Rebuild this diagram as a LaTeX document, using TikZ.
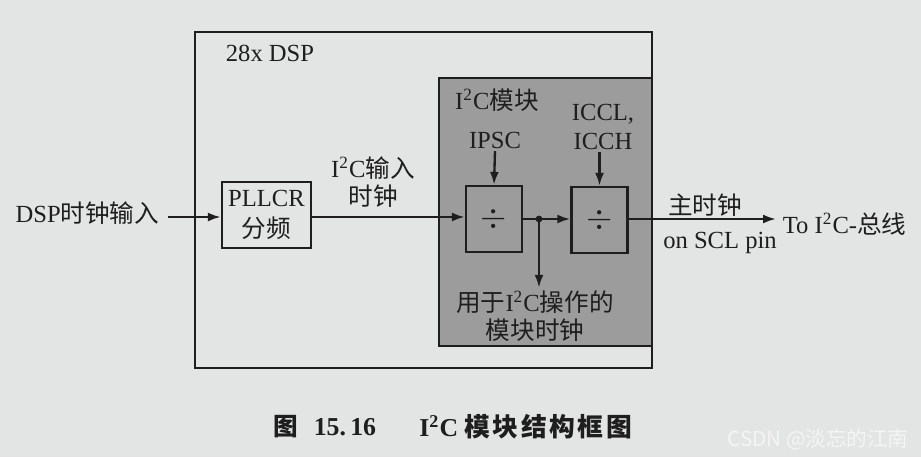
\documentclass[tikz,border=0pt]{standalone}
\usepackage{fontspec}
\setmainfont{Liberation Serif}
\newfontfamily\cjk{Noto Sans CJK SC}
\usetikzlibrary{arrows.meta,positioning}
\definecolor{paper}{HTML}{E3E5E5}
\definecolor{modfill}{HTML}{9C9C9C}
\definecolor{inkline}{HTML}{1E1E1E}
\definecolor{wmark}{HTML}{F4F4F4}
\newcommand{\zh}[1]{{\cjk #1}}
\newcommand{\iic}{I\textsuperscript{2}C}
\begin{document}
\begin{tikzpicture}[x=0.015cm,y=-0.015cm,>={Latex[length=5.5pt,width=3.8pt]},font=\fontsize{10.5}{12}\selectfont,inkline,
  blk/.style={draw=inkline,line width=1pt,inner sep=0pt},
  sig/.style={->,line width=1pt,draw=inkline},
  lbl/.style={align=center,inner sep=1pt,text=inkline}]
\fill[paper] (0,0) rectangle (921,457);
\useasboundingbox (0,0) rectangle (921,457);
\draw[line width=1pt] (195,32) rectangle (652,368);
\draw[line width=1pt,fill=modfill] (439,78) rectangle (652,346);
\node[lbl] (dsp) at (270,53) {28x DSP};
\node[lbl] (mod) at (497,100) {\iic\zh{模块}};
\node[blk,minimum width=89*0.015cm,minimum height=66*0.015cm,align=center,font=\fontsize{10.5}{13}\selectfont] (pll) at (266.5,215) {PLLCR\\\zh{分频}};
\node[blk,minimum width=56*0.015cm,minimum height=66*0.015cm,font=\Large] (d1) at (494,219) {$\div$};
\node[blk,minimum width=56*0.015cm,minimum height=66*0.015cm,font=\Large] (d2) at (599.5,220) {$\div$};
\node[lbl,anchor=east] (clkin) at (162,213) {DSP\zh{时钟输入}};
\node[lbl] (iicin) at (373,182) {\iic\zh{输入}\\\zh{时钟}};
\node[lbl] (ipsc) at (495,140) {IPSC};
\node[lbl] (iccl) at (603,127) {ICCL,\\ICCH};
\node[lbl] (opclk) at (535,316) {\zh{用于}\iic\zh{操作的}\\\zh{模块时钟}};
\node[lbl] (mclk) at (705,205) {\zh{主时钟}};
\node[lbl] (scl) at (720,243) {on SCL pin};
\node[lbl,anchor=west] (bus) at (780,224) {To \iic-\zh{总线}};
\coordinate (inst) at (168,217);
\coordinate (jn) at (539,219);
\coordinate (outend) at (776,219);
\draw[sig] (inst) -- (pll.west|-inst);
\draw[sig] (pll.east|-inst) -- (d1.west|-inst);
\draw[line width=1pt] (d1.east|-jn) -- (jn);
\draw[sig] (jn) -- (d2.west|-jn);
\fill (jn) circle (3.4);
\draw[sig] (jn) -- (opclk.north-|jn);
\draw[sig] (ipsc.south) -- (d1.north);
\draw[sig] (iccl.south-|d2.north) -- (d2.north);
\draw[sig] (d2.east|-outend) -- (outend);
% caption
\node[font=\fontsize{10.5}{12}\selectfont\bfseries] (figno) at (286,427) {\zh{图}};
\node[font=\fontsize{11}{12}\selectfont\bfseries] (figno2) at (345,427) {15.\,16};
\node[anchor=west,font=\fontsize{11}{12}\selectfont\bfseries] (figcap) at (411,427) {I\textsuperscript{2}C \zh{\addfontfeature{LetterSpace=10}模块结构框图}};
\node[wmark,font=\fontsize{8.8}{10}\selectfont\sffamily] (wm) at (818,440) {\zh{CSDN @淡忘的江南}};
\end{tikzpicture}
\end{document}
